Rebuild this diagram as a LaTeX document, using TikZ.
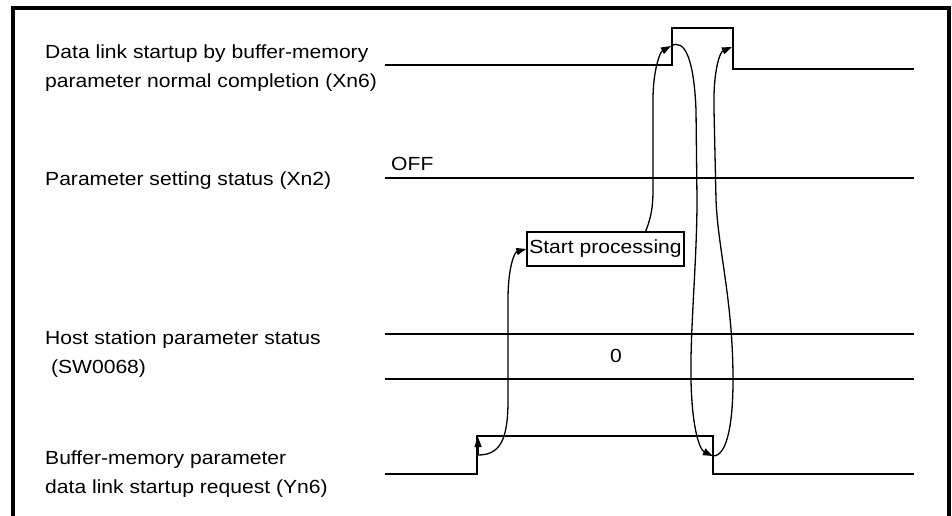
\documentclass[tikz,border=0pt]{standalone}
\usepackage{fontspec}
\setmainfont{Liberation Sans}[FakeStretch=1.11]
\usepackage{tikz}
\usetikzlibrary{arrows.meta}

\begin{document}
\begin{tikzpicture}[x=1pt,y=-1pt,
        lbl/.style={anchor=base west,align=left,inner sep=0pt,font=\fontsize{19}{28.5}\selectfont},
        sig/.style={line width=1.6pt},
        bus/.style={line width=2pt},
        flow/.style={line width=1.3pt,-{Triangle[length=10pt,width=7pt]}}]
        \useasboundingbox (0,0) rectangle (952,516);
        \draw[line width=4pt] (12.5,516) -- (12.5,8.5) -- (949,8.5) -- (949,516);
        % signal names (anchored on the last line)
        \node[lbl] (lxn6) at (45,87.3) {Data link startup by buffer-memory\\parameter normal completion (Xn6)};
        \node[lbl] (lxn2) at (45,185) {Parameter setting status (Xn2)};
        \node[lbl] (lsw) at (45,373) {Host station parameter status\\\ (SW0068)};
        \node[lbl] (lyn6) at (45,493.3) {Buffer-memory parameter\\data link startup request (Yn6)};
        % waveforms
        \draw[sig] (385,65) -- (672,65) -- (672,28) -- (733,28) -- (733,69) -- (914,69);
        \draw[bus] (385,178) -- (914,178);
        \node[lbl] (off) at (391,170) {OFF};
        \draw[bus] (385,334) -- (914,334);
        \draw[bus] (385,379) -- (914,379);
        \node[lbl,anchor=center] (zero) at (616,356) {0};
        \draw[sig] (385,474) -- (477,474) -- (477,436) -- (713,436) -- (713,474) -- (914,474);
        \node[draw,line width=1.3pt,inner sep=0pt,minimum width=157pt,minimum height=34pt,
              font=\fontsize{19}{22}\selectfont] (sp) at (605.5,249) {Start processing};
        \coordinate (xnrise) at (671,46);
        \coordinate (xnfall) at (732,47);
        \coordinate (ynrise) at (478,455);
        \coordinate (ynfall) at (713,456);
        % cause and effect
        \draw[flow] (ynrise) -- (478,437);
        \draw[flow] (ynrise) .. controls (500,455) and (508,440) .. (508,400) -- (508,300)
              .. controls (508,265) and (515,252) .. (sp.west);
        \draw[flow] (sp.north east) ++(-39,0) .. controls (650,220) and (653,210) .. (653,190) -- (653,100)
              .. controls (653,70) and (660,52) .. (xnrise);
        \draw[flow] (xnrise) .. controls (685,38) and (694,60) .. (696,110) -- (697,200)
              .. controls (697,260) and (690,330) .. (691,380) .. controls (692,430) and (700,450) .. (ynfall);
        \draw[flow] (ynfall) .. controls (728,456) and (733,420) .. (733,380)
              .. controls (733,300) and (718,250) .. (716,200) -- (714,110)
              .. controls (713,70) and (720,52) .. (xnfall);
\end{tikzpicture}
\end{document}
